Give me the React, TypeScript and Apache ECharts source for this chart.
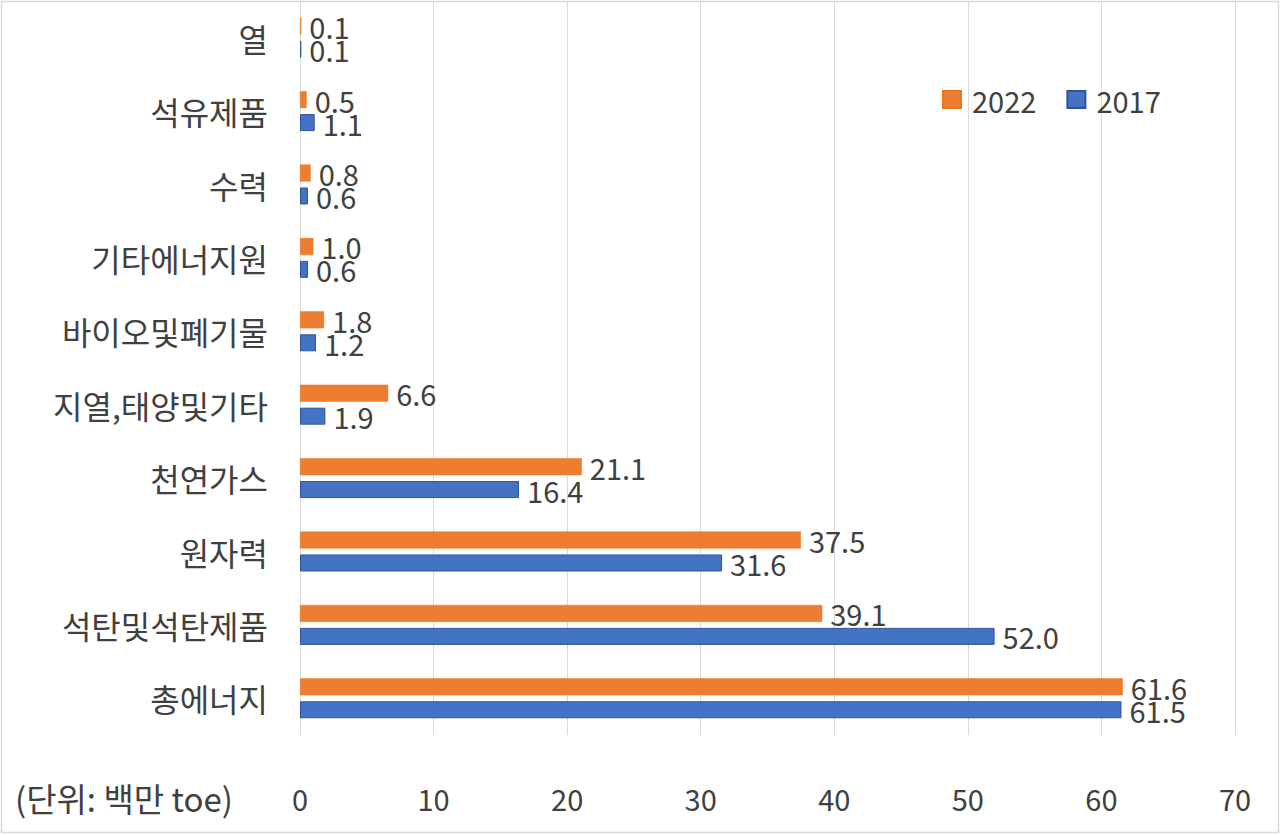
import React, { useEffect, useRef } from "react";
import * as echarts from "echarts";

const categories = ["열", "석유제품", "수력", "기타에너지원", "바이오및폐기물", "지열,태양및기타", "천연가스", "원자력", "석탄및석탄제품", "총에너지"];
const values2022 = [0.1, 0.5, 0.8, 1.0, 1.8, 6.6, 21.1, 37.5, 39.1, 61.6];
const values2017 = [0.1, 1.1, 0.6, 0.6, 1.2, 1.9, 16.4, 31.6, 52.0, 61.5];
const seriesNames = ["2022", "2017"];
const unitLabel = "(단위: 백만 toe)";

const FONT = "'Noto Sans CJK KR', 'Noto Sans', sans-serif";
const TEXT = "#404040";

export default function App() {
  const ref = useRef<HTMLDivElement>(null);
  useEffect(() => {
    if (!ref.current) return;
    const chart = echarts.init(ref.current, null, { renderer: "svg" });
    const label = {
      show: true,
      position: "right",
      distance: 8,
      fontSize: 29,
      color: TEXT,
      fontFamily: FONT,
      formatter: (p: any) => Number(p.value).toFixed(1),
    };
    chart.setOption({
      animation: false,
      backgroundColor: "#ffffff",
      textStyle: { fontFamily: FONT },
      grid: { left: 300, right: 45, top: 1, bottom: 100, containLabel: false },
      legend: {
        data: seriesNames,
        left: 937,
        top: 80,
        itemWidth: 18,
        itemHeight: 17,
        itemGap: 30,
        icon: "rect",
        textStyle: { fontSize: 29, color: TEXT, fontFamily: FONT, padding: [0, 0, 0, 6] },
      },
      xAxis: {
        type: "value",
        min: 0,
        max: 70,
        interval: 10,
        axisLine: { show: false },
        axisTick: { show: false },
        splitLine: { show: true, lineStyle: { color: "#d9d9d9", width: 1 } },
        axisLabel: { fontSize: 29, color: TEXT, fontFamily: FONT, margin: 48 },
      },
      yAxis: {
        type: "category",
        data: categories,
        inverse: true,
        axisLine: { show: false },
        axisTick: { show: false },
        axisLabel: { fontSize: 32, color: TEXT, fontFamily: FONT, margin: 32 },
      },
      series: [
        {
          name: seriesNames[0],
          type: "bar",
          data: values2022,
          barWidth: 17,
          barGap: "35%",
          itemStyle: { color: "#ED7D31", borderColor: "#E87722", borderWidth: 0.5 },
          label,
        },
        {
          name: seriesNames[1],
          type: "bar",
          data: values2017,
          barWidth: 17,
          barGap: "35%",
          itemStyle: { color: "#4472C4", borderColor: "#2F5597", borderWidth: 1 },
          label,
        },
      ],
      graphic: [
        {
          type: "rect",
          shape: { x: 1.5, y: 1.5, width: 1277, height: 831 },
          style: { fill: "none", stroke: "#d9d9d9", lineWidth: 1.5 },
          silent: true,
        },
        {
          type: "text",
          left: 15,
          top: 781,
          style: { text: unitLabel, fontSize: 33, fill: TEXT, fontFamily: FONT },
        },
      ],
    });
    return () => chart.dispose();
  }, []);
  return <div ref={ref} style={{ position: "fixed", left: 0, top: 0, width: 1280, height: 835 }} />;
}
